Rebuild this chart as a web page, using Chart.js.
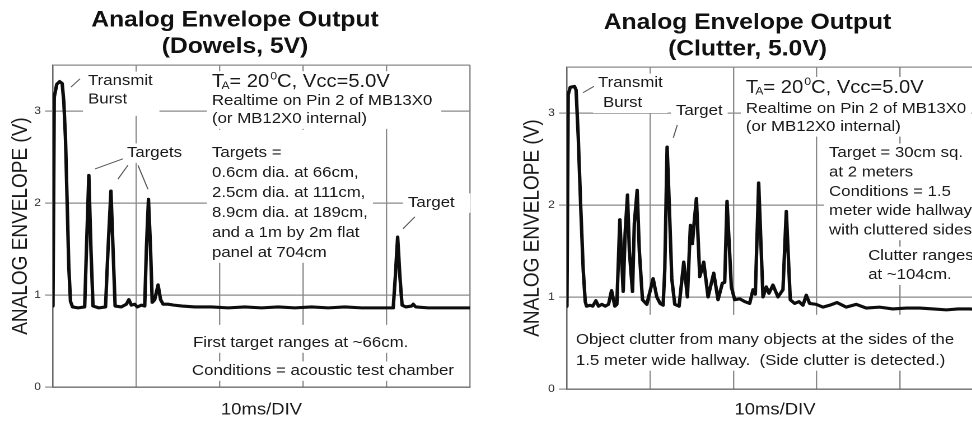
<!DOCTYPE html>
<html><head><meta charset="utf-8">
<script src="https://cdn.jsdelivr.net/npm/chart.js@4.4.1/dist/chart.umd.min.js"></script>
<style>
html,body{margin:0;padding:0;width:972px;height:423px;overflow:hidden;background:#fff;}
.wrap{position:absolute;top:0;height:423px;transform-origin:0 0;transform:scaleX(1.12);}
#w1{left:0;width:434px;}
#w2{left:486px;width:470px;}
canvas{display:block;}
</style></head><body>
<div class="wrap" id="w1"><canvas id="c1" width="434" height="423"></canvas></div>
<div class="wrap" id="w2"><canvas id="c2" width="470" height="423"></canvas></div>
<script>
// ---------- data ----------
const xGridMs = [0, 10, 20, 30, 40, 50];
const yTickVolts = [0, 1, 2, 3];
const yTop = 3.5;
const leftTitle = ['Analog Envelope Output', '(Dowels, 5V)'];
const rightTitle = ['Analog Envelope Output', '(Clutter, 5.0V)'];
const xAxisTitle = '10ms/DIV';
const yAxisTitle = 'ANALOG ENVELOPE (V)';

const leftTimeMs = [0.0,0.15,0.45,0.8,1.1,1.3,1.5,1.7,1.9,2.1,2.35,3.0,3.8,4.05,4.3,4.55,4.8,5.5,6.3,6.6,6.95,7.2,7.45,8.2,8.8,9.1,9.4,9.8,10.1,10.6,11.0,11.2,11.45,11.7,11.9,12.2,12.6,12.9,13.2,13.8,14.5,15.5,17,19,21,23,25,27,29,31,33,35,37,39,40.8,41.05,41.33,41.6,41.86,42.3,43.0,43.2,43.5,45,47,50];
const leftVolts  = [0.88,3.15,3.29,3.32,3.3,3.1,2.7,2.0,1.3,0.93,0.87,0.86,0.87,1.6,2.30,1.5,0.88,0.86,0.87,1.5,2.13,1.5,0.88,0.87,0.9,0.95,0.89,0.9,0.87,0.89,0.88,1.5,2.04,1.5,0.92,0.95,1.11,0.95,0.9,0.9,0.89,0.88,0.87,0.87,0.86,0.87,0.86,0.87,0.86,0.87,0.86,0.87,0.86,0.86,0.86,1.2,1.63,1.2,0.89,0.87,0.88,0.9,0.87,0.86,0.86,0.86];

const rightTimeMs = [0.0,0.15,0.4,0.9,1.1,1.36,1.64,1.96,2.2,2.36,2.8,3.1,3.48,3.8,4.2,4.6,5.0,5.36,5.76,6.0,6.36,6.76,7.0,7.28,7.5,7.88,8.1,8.44,8.7,9.08,9.6,10.36,10.8,11.2,11.56,11.76,12.04,12.3,12.6,12.96,13.48,14.04,14.48,14.84,15.08,15.24,15.56,15.96,16.44,16.96,17.64,18.16,18.68,18.96,19.24,19.76,20.16,20.76,21.36,21.96,22.36,22.64,23.04,23.56,23.96,24.28,24.76,25.36,25.96,26.36,26.84,27.36,27.88,28.36,28.76,29.16,29.96,30.76,31.56,32.44,33.56,34.76,35.96,37.56,39.16,40.8,42.4,44.0,45.6,47.0,48.4,50];
const rightVolts  = [0.9,3.2,3.28,3.29,3.25,2.74,2.02,1.29,0.95,0.9,0.91,0.9,0.96,0.9,0.92,0.9,0.92,1.07,0.9,0.92,1.84,1.06,1.7,2.11,1.5,1.06,1.8,2.16,1.5,0.97,0.92,1.2,1.0,0.93,0.91,1.3,2.63,2.0,1.2,0.92,0.9,1.38,1.0,1.78,1.58,1.76,2.07,1.22,1.38,1.0,1.26,0.97,1.15,1.16,2.04,1.11,0.97,0.98,0.95,0.93,1.08,1.03,2.24,1.0,1.11,1.04,1.13,1.0,1.08,1.93,0.97,0.93,0.95,0.91,1.02,0.93,0.92,0.89,0.91,0.94,0.89,0.92,0.88,0.89,0.87,0.88,0.88,0.87,0.86,0.87,0.87,0.86];

// ---------- annotation text ----------
const leftNotes = [
  {x:4.2, y:3.28, pr:6, pb:9, lines:[['Transmit',15,0],['Burst',15,18.3]]},
  {x:19.06, y:3.26, pr:8, lines:[['§TA',18,0],['Realtime on Pin 2 of MB13X0',15,18],['(or MB12X0 internal)',15,36]]},
  {x:19.06, y:2.5, pt:16, lines:[['Targets =',15,0],['0.6cm dia. at 66cm,',15,20],['2.5cm dia. at 111cm,',15,40],['8.9cm dia. at 189cm,',15,60],['and a 1m by 2m flat',15,80],['panel at 704cm',15,100]]},
  {x:8.87, y:2.5, lines:[['Targets',15,0]]},
  {x:42.57, y:1.957, pr:14, lines:[['Target',15,0]]},
  {x:16.79, y:0.435, pt:11, lines:[['First target ranges at ~66cm.',15,0]]},
  {x:16.67, y:0.13, lines:[['Conditions = acoustic test chamber',15,0]]}
];
const leftLeaders = [[2.16,3.26,3.24,3.35],[8.39,2.48,5.04,2.37],[8.99,2.41,7.79,2.26],[10.19,2.41,11.39,2.15],[43.4,1.85,41.97,1.72]];

const rightNotes = [
  {x:3.73, y:3.28, lines:[['Transmit',15,0],['Burst',15,20,4.5]]},
  {x:13.1, y:2.98, lines:[['Target',15,0]]},
  {x:21.5, y:3.22, lines:[['§TA',18,0],['Realtime on Pin 2 of MB13X0',15,20],['(or MB12X0 internal)',15,38]]},
  {x:31.5, y:2.52, lines:[['Target = 30cm sq.',15,0],['at 2 meters',15,19.3],['Conditions = 1.5',15,38.6],['meter wide hallway',15,57.9],['with cluttered sides',15,77.2]]},
  {x:36.2, y:1.40, lines:[['Clutter ranges',15,0],['at ~104cm.',15,19]]},
  {x:1.08, y:0.49, pt:18, lines:[['Object clutter from many objects at the sides of the',15,0],['1.5 meter wide hallway.  (Side clutter is detected.)',15,21]]}
];
const rightLeaders = [[1.92,3.22,3.25,3.29],[12.78,2.73,13.26,2.87]];

// ---------- drawing helpers ----------
const FONT = '"Liberation Sans", Arial, Helvetica, sans-serif';
const F = s => `${s}px ${FONT}`;
const gridColor = '#8a8a8a';
const textColor = '#1a1a1a';

function lineText(ctx, text, size, x, y, draw) {
  if (text !== '§TA') {
    ctx.font = F(size);
    if (draw) ctx.fillText(text, x, y);
    return ctx.measureText(text).width;
  }
  let cx = x; const sm = size * 0.6;
  ctx.font = F(size); if (draw) ctx.fillText('T', cx, y); cx += ctx.measureText('T').width - size * 0.14;
  ctx.font = F(sm); if (draw) ctx.fillText('A', cx, y + size * 0.1); cx += ctx.measureText('A').width;
  ctx.font = F(size); if (draw) ctx.fillText('= 20', cx, y); cx += ctx.measureText('= 20').width + 1;
  ctx.font = F(sm); if (draw) ctx.fillText('0', cx, y - size * 0.42); cx += ctx.measureText('0').width;
  ctx.font = F(size); if (draw) ctx.fillText('C, Vcc=5.0V', cx, y); cx += ctx.measureText('C, Vcc=5.0V').width;
  return cx - x;
}

function makeNotes(items, leaders) {
  return {
    id: 'notes',
    beforeDatasetsDraw(chart) {
      const ctx = chart.ctx, xs = chart.scales.x, ys = chart.scales.y;
      ctx.save();
      ctx.textAlign = 'left'; ctx.textBaseline = 'alphabetic';
      const placed = items.map(it => {
        const X = xs.getPixelForValue(it.x), Y = ys.getPixelForValue(it.y);
        let l = Infinity, r = -Infinity, t = Infinity, b = -Infinity;
        it.lines.forEach(([txt, size, dy, dx = 0]) => {
          const w = lineText(ctx, txt, size, X + dx, Y + dy, false);
          l = Math.min(l, X + dx); r = Math.max(r, X + dx + w);
          t = Math.min(t, Y + dy - size * 0.74); b = Math.max(b, Y + dy + size * 0.22);
        });
        return {X, Y, l, r, t, b, it};
      });
      ctx.fillStyle = '#fff';
      placed.forEach(p => {
        const pl = p.it.pl ?? 4.5, pr = p.it.pr ?? 4.5, pt = p.it.pt ?? 2.5, pb = p.it.pb ?? 2.5;
        ctx.fillRect(p.l - pl, p.t - pt, p.r - p.l + pl + pr, p.b - p.t + pt + pb);
      });
      ctx.fillStyle = textColor;
      placed.forEach(p => p.it.lines.forEach(([txt, size, dy, dx = 0]) => lineText(ctx, txt, size, p.X + dx, p.Y + dy, true)));
      ctx.strokeStyle = '#555'; ctx.lineWidth = 1;
      leaders.forEach(([x1, y1, x2, y2]) => {
        ctx.beginPath();
        ctx.moveTo(xs.getPixelForValue(x1), ys.getPixelForValue(y1));
        ctx.lineTo(xs.getPixelForValue(x2), ys.getPixelForValue(y2));
        ctx.stroke();
      });
      ctx.restore();
    }
  };
}

function makeChart(id, cfg) {
  return new Chart(document.getElementById(id), {
    type: 'line',
    data: {
      datasets: [{
        data: cfg.t.map((t, i) => ({x: t, y: cfg.v[i]})),
        borderColor: '#0d0d0d', borderWidth: 3.1, borderJoinStyle: 'round', borderCapStyle: 'round',
        pointRadius: 0, tension: 0, fill: false
      }]
    },
    options: {
      responsive: false, animation: false, devicePixelRatio: 2,
      layout: {padding: cfg.padding},
      plugins: {
        legend: {display: false}, tooltip: {enabled: false},
        title: {display: true, text: cfg.title, color: '#111',
          font: {family: FONT, size: 22, weight: 'bold', lineHeight: 1.2},
          padding: cfg.titlePad}
      },
      scales: {
        x: {type: 'linear', min: 0, max: 50,
          afterBuildTicks: s => { s.ticks = xGridMs.map(v => ({value: v})); },
          afterFit: s => { s.height = cfg.xHeight; },
          ticks: {display: false},
          grid: {color: gridColor, lineWidth: 1.2, drawTicks: false},
          border: {display: true, color: '#6a6a6a', width: 1.2},
          title: {display: true, text: xAxisTitle, color: textColor,
            font: {family: FONT, size: 16.5, lineHeight: 1.2}, padding: {top: 0, bottom: 2.9}}
        },
        y: {type: 'linear', min: 0, max: yTop,
          afterBuildTicks: s => { s.ticks = yTickVolts.concat([yTop]).map(v => ({value: v})); },
          afterFit: s => { s.width = cfg.yWidth; },
          ticks: {color: '#333', font: {family: FONT, size: 11}, padding: 3.7,
            callback: v => yTickVolts.includes(v) ? String(v) : ''},
          grid: {color: gridColor, lineWidth: 1.2, tickLength: 7,
            tickColor: c => (c.tick && c.tick.value === yTop) ? 'rgba(0,0,0,0)' : gridColor},
          border: {display: true, color: '#6a6a6a', width: 1.2},
          title: {display: true, text: yAxisTitle, color: textColor,
            font: {family: FONT, size: 19, lineHeight: 1.2}, padding: {top: 7.35, bottom: 0}}
        }
      }
    },
    plugins: [makeNotes(cfg.notes, cfg.leaders)]
  });
}

makeChart('c1', {t: leftTimeMs, v: leftVolts, title: leftTitle,
  padding: {top: 0, left: 0, right: 14.4, bottom: 0}, titlePad: {top: 7.1, bottom: 5.1},
  xHeight: 36, yWidth: 47.3, notes: leftNotes, leaders: leftLeaders});
makeChart('c2', {t: rightTimeMs, v: rightVolts, title: rightTitle,
  padding: {top: 0, left: 23.25, right: 26.25, bottom: 0}, titlePad: {top: 9.6, bottom: 4.6},
  xHeight: 34, yWidth: 49, notes: rightNotes, leaders: rightLeaders});
</script>
</body></html>
